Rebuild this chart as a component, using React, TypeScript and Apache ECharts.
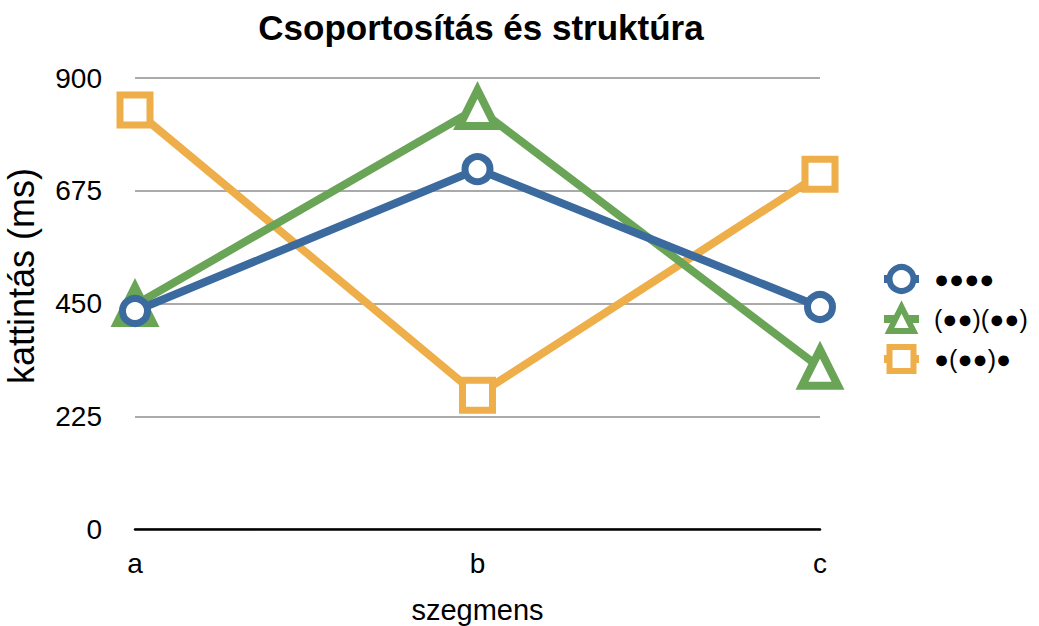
import React, { useEffect, useRef } from "react";
import * as echarts from "echarts";

const categories = ["a", "b", "c"];
const seriesNames = ["●●●●", "(●●)(●●)", "●(●●)●"];
const blueValues = [435, 718, 443];
const greenValues = [447, 840, 322];
const orangeValues = [836, 267, 708];
const yTicks = { min: 0, max: 900, interval: 225 };
const colors = ["#3b6a9f", "#6aa457", "#eeae49"];
const symbols = ["circle", "triangle", "rect"];
const symbolSizes = [25, 36, 30];

export default function App() {
  const ref = useRef<HTMLDivElement>(null);
  useEffect(() => {
    if (!ref.current) return;
    const chart = echarts.init(ref.current, null, { renderer: "svg" });
    const data = [blueValues, greenValues, orangeValues];
    const font = "'Liberation Sans', Arial, Helvetica, sans-serif";
    chart.setOption({
      animation: false,
      textStyle: { fontFamily: font },
      title: {
        text: "Csoportosítás és struktúra",
        left: 476,
        textAlign: "center",
        top: 5,
        textStyle: { fontSize: 35, fontWeight: "bold", color: "#000", fontFamily: font },
      },
      grid: { left: 135, right: 219, top: 78, bottom: 97, outerBoundsMode: "none", containLabel: false },
      legend: {
        orient: "vertical",
        left: 875,
        top: 259,
        itemGap: 10,
        itemWidth: 35,
        itemHeight: 30,
        lineStyle: { width: 8 },
        itemStyle: { borderWidth: 6 },
        textStyle: { fontSize: 25, color: "#000", fontFamily: font, padding: [0, 0, 0, 10] },
        data: seriesNames,
      },
      xAxis: {
        type: "category",
        data: categories,
        boundaryGap: false,
        name: "szegmens",
        nameLocation: "middle",
        nameGap: 66,
        nameTextStyle: { fontSize: 29, color: "#000" },
        axisLine: { lineStyle: { color: "#000", width: 2.5 } },
        axisTick: { show: false },
        axisLabel: { fontSize: 28, color: "#000", margin: 20 },
      },
      yAxis: {
        type: "value",
        min: yTicks.min,
        max: yTicks.max,
        interval: yTicks.interval,
        name: "kattintás (ms)",
        nameLocation: "middle",
        nameGap: 96,
        nameTextStyle: { fontSize: 36, color: "#000", padding: [0, 0, 0, 55] },
        axisLine: { show: false },
        axisTick: { show: false },
        axisLabel: { fontSize: 28, color: "#000", margin: 33 },
        splitLine: { lineStyle: { color: "#aaaaaa", width: 2 } },
      },
      series: seriesNames.map((name, i) => ({
        name,
        type: "line",
        data: data[i],
        symbol: symbols[i],
        symbolSize: symbolSizes[i],
        showAllSymbol: true,
        lineStyle: { color: colors[i], width: 8 },
        itemStyle: { color: "#fff", borderColor: colors[i], borderWidth: i === 1 ? 8 : 7 },
        z: 2 + (2 - i),
      })),
    });
    return () => chart.dispose();
  }, []);
  return <div ref={ref} style={{ width: 1039, height: 626, position: "absolute", left: 0, top: 0 }} />;
}
